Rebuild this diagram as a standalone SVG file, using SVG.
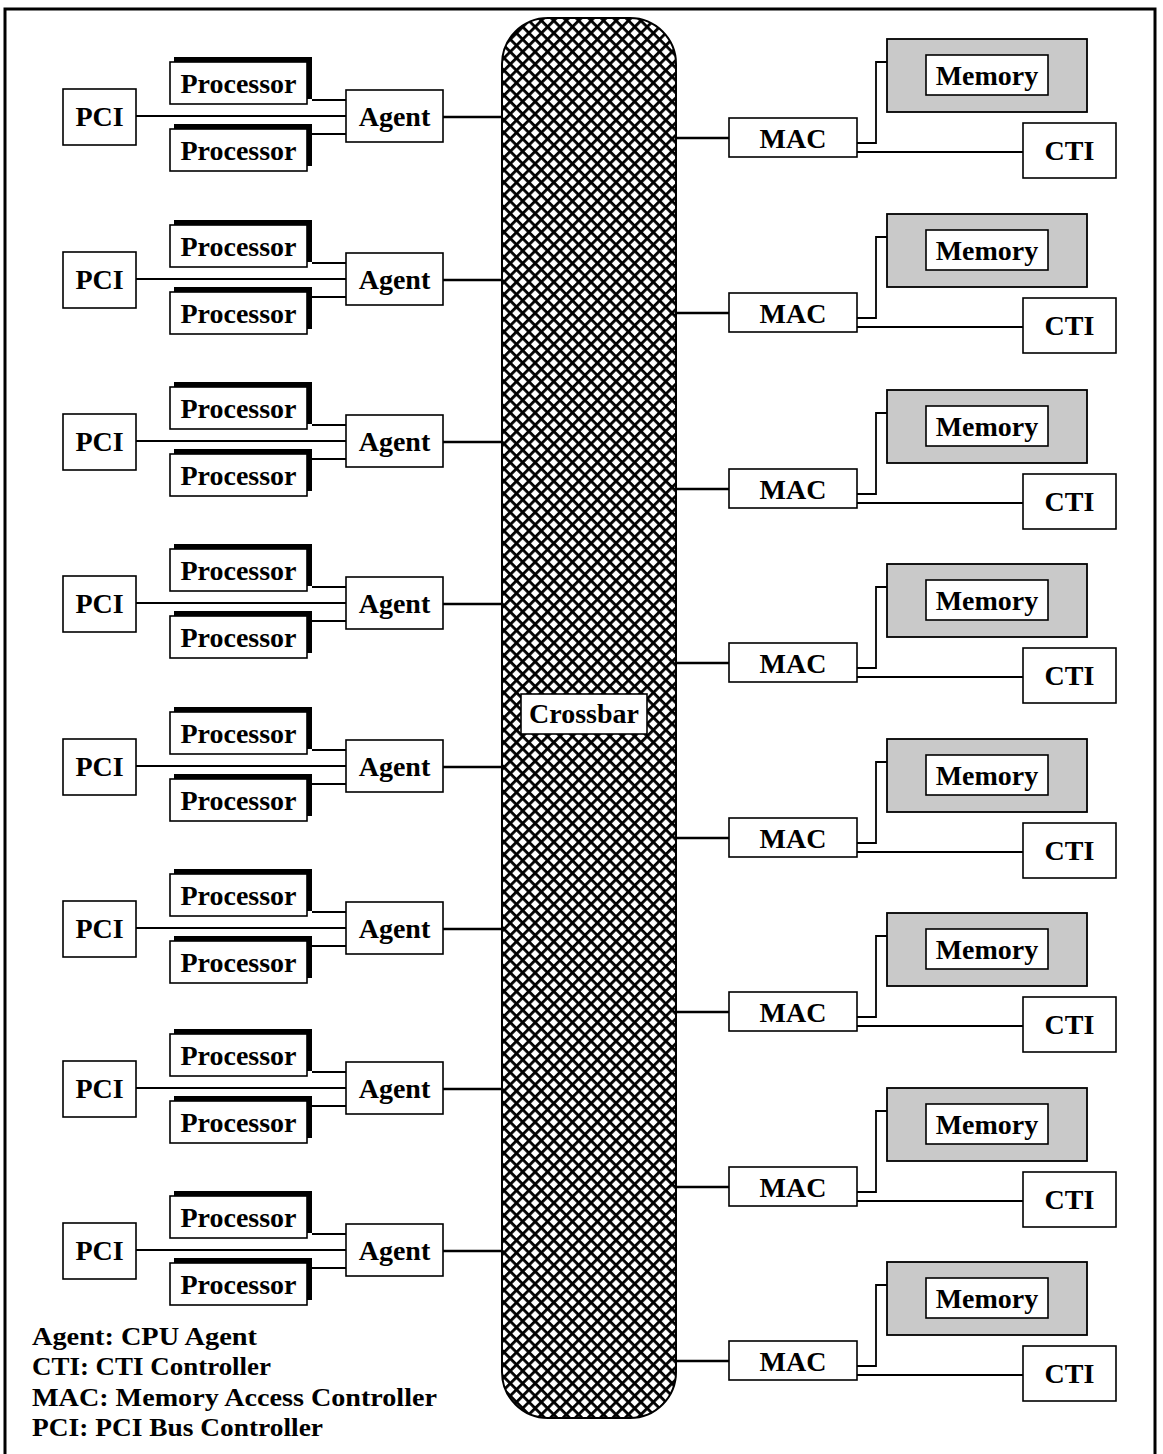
<svg xmlns="http://www.w3.org/2000/svg" width="1163" height="1454" viewBox="0 0 1163 1454">
<style>
.box{fill:#fff;stroke:#000;stroke-width:1.6}
.shadow{fill:#000}
.mem{fill:#c9c9c9;stroke:#000;stroke-width:1.8}
text{font-family:"Liberation Serif","Times New Roman",serif;font-weight:bold;font-size:28px;fill:#000;text-anchor:middle}
.legend{font-size:26px;text-anchor:start}
.conn line,.conn path{stroke:#000;stroke-width:1.8;fill:none}
.conn .thick{stroke-width:2.6}
</style>
<defs>
<pattern id="hatch" patternUnits="userSpaceOnUse" width="8.8" height="8.8" patternTransform="rotate(45)">
<rect x="0" y="0" width="8.8" height="8.8" fill="#fff"/>
<rect x="0" y="0" width="8.8" height="2.8" fill="#000"/>
<rect x="0" y="0" width="2.8" height="8.8" fill="#000"/>
</pattern>
<g id="procShape"><rect class="shadow" x="174" y="-5" width="138" height="42"/><rect class="box" x="170" y="0" width="137" height="42"/></g>
</defs>
<rect x="0" y="0" width="1163" height="1454" fill="#fff"/>
<rect id="frame" x="5" y="9" width="1150" height="1470" fill="none" stroke="#000" stroke-width="3"/>

<g class="conn" id="connectors">
<line x1="136" y1="116" x2="346" y2="116"/><line x1="312" y1="100" x2="346" y2="100"/><line x1="312" y1="134" x2="346" y2="134"/><line class="thick" x1="443" y1="117" x2="503" y2="117"/>
<line x1="136" y1="279" x2="346" y2="279"/><line x1="312" y1="263" x2="346" y2="263"/><line x1="312" y1="297" x2="346" y2="297"/><line class="thick" x1="443" y1="280" x2="503" y2="280"/>
<line x1="136" y1="441" x2="346" y2="441"/><line x1="312" y1="425" x2="346" y2="425"/><line x1="312" y1="459" x2="346" y2="459"/><line class="thick" x1="443" y1="442" x2="503" y2="442"/>
<line x1="136" y1="603" x2="346" y2="603"/><line x1="312" y1="587" x2="346" y2="587"/><line x1="312" y1="621" x2="346" y2="621"/><line class="thick" x1="443" y1="604" x2="503" y2="604"/>
<line x1="136" y1="766" x2="346" y2="766"/><line x1="312" y1="750" x2="346" y2="750"/><line x1="312" y1="784" x2="346" y2="784"/><line class="thick" x1="443" y1="767" x2="503" y2="767"/>
<line x1="136" y1="928" x2="346" y2="928"/><line x1="312" y1="912" x2="346" y2="912"/><line x1="312" y1="946" x2="346" y2="946"/><line class="thick" x1="443" y1="929" x2="503" y2="929"/>
<line x1="136" y1="1088" x2="346" y2="1088"/><line x1="312" y1="1072" x2="346" y2="1072"/><line x1="312" y1="1106" x2="346" y2="1106"/><line class="thick" x1="443" y1="1089" x2="503" y2="1089"/>
<line x1="136" y1="1250" x2="346" y2="1250"/><line x1="312" y1="1234" x2="346" y2="1234"/><line x1="312" y1="1268" x2="346" y2="1268"/><line class="thick" x1="443" y1="1251" x2="503" y2="1251"/>
<line class="thick" x1="675" y1="138" x2="729" y2="138"/><path d="M857,143 H876 V62 H887"/><line x1="857" y1="152" x2="1023" y2="152"/>
<line class="thick" x1="675" y1="313" x2="729" y2="313"/><path d="M857,318 H876 V237 H887"/><line x1="857" y1="327" x2="1023" y2="327"/>
<line class="thick" x1="675" y1="489" x2="729" y2="489"/><path d="M857,494 H876 V413 H887"/><line x1="857" y1="503" x2="1023" y2="503"/>
<line class="thick" x1="675" y1="663" x2="729" y2="663"/><path d="M857,668 H876 V587 H887"/><line x1="857" y1="677" x2="1023" y2="677"/>
<line class="thick" x1="675" y1="838" x2="729" y2="838"/><path d="M857,843 H876 V762 H887"/><line x1="857" y1="852" x2="1023" y2="852"/>
<line class="thick" x1="675" y1="1012" x2="729" y2="1012"/><path d="M857,1017 H876 V936 H887"/><line x1="857" y1="1026" x2="1023" y2="1026"/>
<line class="thick" x1="675" y1="1187" x2="729" y2="1187"/><path d="M857,1192 H876 V1111 H887"/><line x1="857" y1="1201" x2="1023" y2="1201"/>
<line class="thick" x1="675" y1="1361" x2="729" y2="1361"/><path d="M857,1366 H876 V1285 H887"/><line x1="857" y1="1375" x2="1023" y2="1375"/>
</g>

<g id="crossbar">
<rect x="502" y="18" width="174" height="1400" rx="46" ry="46" fill="url(#hatch)" stroke="#000" stroke-width="2"/>
<rect class="box" x="521" y="694" width="126" height="40"/>
<text x="584" y="723">Crossbar</text>
</g>

<g id="pci-1" transform="translate(0,117)"><rect class="box" x="63" y="-28" width="73" height="56"/><text x="99.5" y="9">PCI</text></g>
<g id="proc-1a" transform="translate(0,117)"><use href="#procShape" y="-55"/><text x="238.5" y="-24">Processor</text></g>
<g id="proc-1b" transform="translate(0,117)"><use href="#procShape" y="12"/><text x="238.5" y="43">Processor</text></g>
<g id="agent-1" transform="translate(0,117)"><rect class="box" x="346" y="-27" width="97" height="52"/><text x="394.5" y="9">Agent</text></g>

<g id="pci-2" transform="translate(0,280)"><rect class="box" x="63" y="-28" width="73" height="56"/><text x="99.5" y="9">PCI</text></g>
<g id="proc-2a" transform="translate(0,280)"><use href="#procShape" y="-55"/><text x="238.5" y="-24">Processor</text></g>
<g id="proc-2b" transform="translate(0,280)"><use href="#procShape" y="12"/><text x="238.5" y="43">Processor</text></g>
<g id="agent-2" transform="translate(0,280)"><rect class="box" x="346" y="-27" width="97" height="52"/><text x="394.5" y="9">Agent</text></g>

<g id="pci-3" transform="translate(0,442)"><rect class="box" x="63" y="-28" width="73" height="56"/><text x="99.5" y="9">PCI</text></g>
<g id="proc-3a" transform="translate(0,442)"><use href="#procShape" y="-55"/><text x="238.5" y="-24">Processor</text></g>
<g id="proc-3b" transform="translate(0,442)"><use href="#procShape" y="12"/><text x="238.5" y="43">Processor</text></g>
<g id="agent-3" transform="translate(0,442)"><rect class="box" x="346" y="-27" width="97" height="52"/><text x="394.5" y="9">Agent</text></g>

<g id="pci-4" transform="translate(0,604)"><rect class="box" x="63" y="-28" width="73" height="56"/><text x="99.5" y="9">PCI</text></g>
<g id="proc-4a" transform="translate(0,604)"><use href="#procShape" y="-55"/><text x="238.5" y="-24">Processor</text></g>
<g id="proc-4b" transform="translate(0,604)"><use href="#procShape" y="12"/><text x="238.5" y="43">Processor</text></g>
<g id="agent-4" transform="translate(0,604)"><rect class="box" x="346" y="-27" width="97" height="52"/><text x="394.5" y="9">Agent</text></g>

<g id="pci-5" transform="translate(0,767)"><rect class="box" x="63" y="-28" width="73" height="56"/><text x="99.5" y="9">PCI</text></g>
<g id="proc-5a" transform="translate(0,767)"><use href="#procShape" y="-55"/><text x="238.5" y="-24">Processor</text></g>
<g id="proc-5b" transform="translate(0,767)"><use href="#procShape" y="12"/><text x="238.5" y="43">Processor</text></g>
<g id="agent-5" transform="translate(0,767)"><rect class="box" x="346" y="-27" width="97" height="52"/><text x="394.5" y="9">Agent</text></g>

<g id="pci-6" transform="translate(0,929)"><rect class="box" x="63" y="-28" width="73" height="56"/><text x="99.5" y="9">PCI</text></g>
<g id="proc-6a" transform="translate(0,929)"><use href="#procShape" y="-55"/><text x="238.5" y="-24">Processor</text></g>
<g id="proc-6b" transform="translate(0,929)"><use href="#procShape" y="12"/><text x="238.5" y="43">Processor</text></g>
<g id="agent-6" transform="translate(0,929)"><rect class="box" x="346" y="-27" width="97" height="52"/><text x="394.5" y="9">Agent</text></g>

<g id="pci-7" transform="translate(0,1089)"><rect class="box" x="63" y="-28" width="73" height="56"/><text x="99.5" y="9">PCI</text></g>
<g id="proc-7a" transform="translate(0,1089)"><use href="#procShape" y="-55"/><text x="238.5" y="-24">Processor</text></g>
<g id="proc-7b" transform="translate(0,1089)"><use href="#procShape" y="12"/><text x="238.5" y="43">Processor</text></g>
<g id="agent-7" transform="translate(0,1089)"><rect class="box" x="346" y="-27" width="97" height="52"/><text x="394.5" y="9">Agent</text></g>

<g id="pci-8" transform="translate(0,1251)"><rect class="box" x="63" y="-28" width="73" height="56"/><text x="99.5" y="9">PCI</text></g>
<g id="proc-8a" transform="translate(0,1251)"><use href="#procShape" y="-55"/><text x="238.5" y="-24">Processor</text></g>
<g id="proc-8b" transform="translate(0,1251)"><use href="#procShape" y="12"/><text x="238.5" y="43">Processor</text></g>
<g id="agent-8" transform="translate(0,1251)"><rect class="box" x="346" y="-27" width="97" height="52"/><text x="394.5" y="9">Agent</text></g>

<g id="mac-1" transform="translate(0,138)"><rect class="box" x="729" y="-20" width="128" height="39"/><text x="793" y="10">MAC</text></g>
<g id="mem-1" transform="translate(0,138)"><rect class="mem" x="887" y="-99" width="200" height="73"/><rect class="box" x="926" y="-83" width="122" height="40"/><text x="987" y="-53">Memory</text></g>
<g id="cti-1" transform="translate(0,138)"><rect class="box" x="1023" y="-15" width="93" height="55"/><text x="1069.5" y="22">CTI</text></g>

<g id="mac-2" transform="translate(0,313)"><rect class="box" x="729" y="-20" width="128" height="39"/><text x="793" y="10">MAC</text></g>
<g id="mem-2" transform="translate(0,313)"><rect class="mem" x="887" y="-99" width="200" height="73"/><rect class="box" x="926" y="-83" width="122" height="40"/><text x="987" y="-53">Memory</text></g>
<g id="cti-2" transform="translate(0,313)"><rect class="box" x="1023" y="-15" width="93" height="55"/><text x="1069.5" y="22">CTI</text></g>

<g id="mac-3" transform="translate(0,489)"><rect class="box" x="729" y="-20" width="128" height="39"/><text x="793" y="10">MAC</text></g>
<g id="mem-3" transform="translate(0,489)"><rect class="mem" x="887" y="-99" width="200" height="73"/><rect class="box" x="926" y="-83" width="122" height="40"/><text x="987" y="-53">Memory</text></g>
<g id="cti-3" transform="translate(0,489)"><rect class="box" x="1023" y="-15" width="93" height="55"/><text x="1069.5" y="22">CTI</text></g>

<g id="mac-4" transform="translate(0,663)"><rect class="box" x="729" y="-20" width="128" height="39"/><text x="793" y="10">MAC</text></g>
<g id="mem-4" transform="translate(0,663)"><rect class="mem" x="887" y="-99" width="200" height="73"/><rect class="box" x="926" y="-83" width="122" height="40"/><text x="987" y="-53">Memory</text></g>
<g id="cti-4" transform="translate(0,663)"><rect class="box" x="1023" y="-15" width="93" height="55"/><text x="1069.5" y="22">CTI</text></g>

<g id="mac-5" transform="translate(0,838)"><rect class="box" x="729" y="-20" width="128" height="39"/><text x="793" y="10">MAC</text></g>
<g id="mem-5" transform="translate(0,838)"><rect class="mem" x="887" y="-99" width="200" height="73"/><rect class="box" x="926" y="-83" width="122" height="40"/><text x="987" y="-53">Memory</text></g>
<g id="cti-5" transform="translate(0,838)"><rect class="box" x="1023" y="-15" width="93" height="55"/><text x="1069.5" y="22">CTI</text></g>

<g id="mac-6" transform="translate(0,1012)"><rect class="box" x="729" y="-20" width="128" height="39"/><text x="793" y="10">MAC</text></g>
<g id="mem-6" transform="translate(0,1012)"><rect class="mem" x="887" y="-99" width="200" height="73"/><rect class="box" x="926" y="-83" width="122" height="40"/><text x="987" y="-53">Memory</text></g>
<g id="cti-6" transform="translate(0,1012)"><rect class="box" x="1023" y="-15" width="93" height="55"/><text x="1069.5" y="22">CTI</text></g>

<g id="mac-7" transform="translate(0,1187)"><rect class="box" x="729" y="-20" width="128" height="39"/><text x="793" y="10">MAC</text></g>
<g id="mem-7" transform="translate(0,1187)"><rect class="mem" x="887" y="-99" width="200" height="73"/><rect class="box" x="926" y="-83" width="122" height="40"/><text x="987" y="-53">Memory</text></g>
<g id="cti-7" transform="translate(0,1187)"><rect class="box" x="1023" y="-15" width="93" height="55"/><text x="1069.5" y="22">CTI</text></g>

<g id="mac-8" transform="translate(0,1361)"><rect class="box" x="729" y="-20" width="128" height="39"/><text x="793" y="10">MAC</text></g>
<g id="mem-8" transform="translate(0,1361)"><rect class="mem" x="887" y="-99" width="200" height="73"/><rect class="box" x="926" y="-83" width="122" height="40"/><text x="987" y="-53">Memory</text></g>
<g id="cti-8" transform="translate(0,1361)"><rect class="box" x="1023" y="-15" width="93" height="55"/><text x="1069.5" y="22">CTI</text></g>

<g id="legend">
<text class="legend" x="32" y="1345" textLength="225" lengthAdjust="spacingAndGlyphs">Agent: CPU Agent</text>
<text class="legend" x="32" y="1375" textLength="239" lengthAdjust="spacingAndGlyphs">CTI: CTI Controller</text>
<text class="legend" x="32" y="1406" textLength="405" lengthAdjust="spacingAndGlyphs">MAC: Memory Access Controller</text>
<text class="legend" x="32" y="1436" textLength="291" lengthAdjust="spacingAndGlyphs">PCI: PCI Bus Controller</text>
</g>
</svg>
